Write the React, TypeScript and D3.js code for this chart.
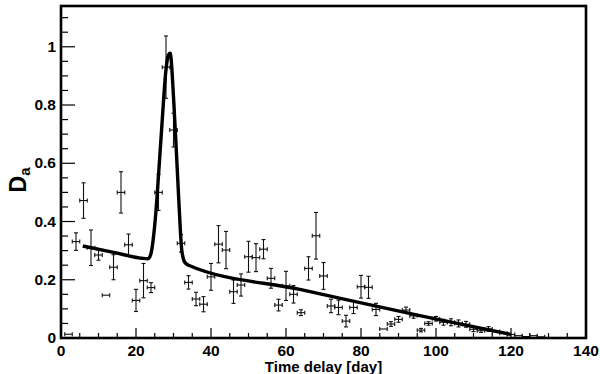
import React, { useEffect, useRef } from 'react';
import * as d3 from 'd3';

// binned measurements: bin centre [day], value, vertical error
const binCenters = [2, 4, 6, 8, 10, 12, 14, 16, 18, 20, 22, 24, 26, 28, 30, 32, 34, 36, 38, 40,
  42, 44, 46, 48, 50, 52, 54, 56, 58, 60, 62, 64, 66, 68, 70, 72, 74, 76, 78, 80,
  82, 84, 86, 88, 90, 92, 94, 96, 98, 100, 102, 104, 106, 108, 110, 112, 114, 116, 118, 120,
  122, 124, 126, 128];
const binValues = [0.013, 0.331, 0.472, 0.31, 0.285, 0.147, 0.243, 0.5, 0.32, 0.129, 0.197, 0.173, 0.5, 0.93, 0.714, 0.325, 0.191, 0.134, 0.116, 0.21,
  0.322, 0.302, 0.159, 0.182, 0.279, 0.276, 0.305, 0.205, 0.113, 0.179, 0.15, 0.087, 0.239, 0.351, 0.213, 0.11, 0.105, 0.058, 0.105, 0.176,
  0.174, 0.098, 0.031, 0.048, 0.064, 0.096, 0.076, 0.027, 0.05, 0.066, 0.054, 0.054, 0.05, 0.047, 0.03, 0.025, 0.031, 0.022, 0.016, 0.012,
  0.008, 0.005, 0.008, 0.004];
const binErrors = [0.002, 0.03, 0.061, 0.061, 0.018, 0.005, 0.043, 0.071, 0.037, 0.038, 0.059, 0.017, 0.062, 0.107, 0.058, 0.03, 0.023, 0.023, 0.026, 0.046,
  0.064, 0.064, 0.04, 0.038, 0.053, 0.048, 0.033, 0.034, 0.02, 0.05, 0.03, 0.01, 0.04, 0.08, 0.046, 0.023, 0.025, 0.02, 0.021, 0.039,
  0.038, 0.021, 0.003, 0.008, 0.01, 0.01, 0.008, 0.006, 0.006, 0.008, 0.01, 0.012, 0.012, 0.01, 0.008, 0.006, 0.008, 0.005, 0.004, 0.003,
  0.003, 0.002, 0.002, 0.002];
const binHalfWidth = 1;

// fitted curve
const fitX = [5.8, 14, 21.5, 23.2, 24.0, 24.6, 25.2, 26.1, 27.0, 27.9, 28.6, 29.1, 30.0, 30.7, 31.5, 32.2, 33.0, 34.0, 64, 96, 120];
const fitY = [0.316, 0.294, 0.274, 0.272, 0.29, 0.34, 0.417, 0.577, 0.749, 0.909, 0.97, 0.978, 0.829, 0.657, 0.451, 0.302, 0.26, 0.25, 0.166, 0.076, 0.012];

const xTicks = [0, 20, 40, 60, 80, 100, 120, 140];
const yTicks = [0, 0.2, 0.4, 0.6, 0.8, 1];

const App = () => {
  const ref = useRef<SVGSVGElement>(null);

  useEffect(() => {
    const svg = d3.select(ref.current);
    svg.selectAll('*').remove();

    const left = 61, right = 586, top = 6, bottom = 338;
    const x = d3.scaleLinear().domain([0, 140]).range([left, right]);
    const y = d3.scaleLinear().domain([0, 1.14]).range([bottom, top]);
    const font = '"Liberation Sans", Arial, Helvetica, sans-serif';

    // ticks, drawn inward
    const g = svg.append('g').attr('stroke', '#000').attr('stroke-width', 1.2);
    d3.range(0, 141, 5).forEach((v) => {
      const len = v % 20 === 0 ? 10 : 5;
      g.append('line').attr('x1', x(v)).attr('x2', x(v)).attr('y1', bottom).attr('y2', bottom - len);
    });
    d3.range(0, 23).forEach((i) => {
      const v = i * 0.05;
      const len = i % 4 === 0 ? 14 : 7;
      g.append('line').attr('x1', left).attr('x2', left + len).attr('y1', y(v)).attr('y2', y(v));
    });

    svg.append('g').selectAll('text').data(xTicks).enter().append('text')
      .attr('x', (d) => x(d)).attr('y', 356)
      .attr('text-anchor', 'middle')
      .attr('font-family', font).attr('font-weight', 'bold').attr('font-size', 15.5)
      .text((d) => d);

    svg.append('g').selectAll('text').data(yTicks).enter().append('text')
      .attr('x', 56).attr('y', (d) => y(d) + 5)
      .attr('text-anchor', 'end')
      .attr('font-family', font).attr('font-weight', 'bold').attr('font-size', 15.5)
      .text((d) => d);

    // error bars
    const eb = svg.append('g').attr('stroke', '#111').attr('stroke-width', 1.1);
    binCenters.forEach((c, i) => {
      const v = binValues[i], e = binErrors[i];
      const x0 = x(c - binHalfWidth), x1 = x(c + binHalfWidth), yc = y(v);
      const y0 = y(v - e), y1 = y(v + e);
      eb.append('line').attr('x1', x0).attr('x2', x1).attr('y1', yc).attr('y2', yc);
      eb.append('line').attr('x1', x0).attr('x2', x0).attr('y1', yc - 2).attr('y2', yc + 2);
      eb.append('line').attr('x1', x1).attr('x2', x1).attr('y1', yc - 2).attr('y2', yc + 2);
      if (y0 - y1 > 3) {
        eb.append('line').attr('x1', x(c)).attr('x2', x(c)).attr('y1', y0).attr('y2', y1);
        eb.append('line').attr('x1', x(c) - 2).attr('x2', x(c) + 2).attr('y1', y0).attr('y2', y0);
        eb.append('line').attr('x1', x(c) - 2).attr('x2', x(c) + 2).attr('y1', y1).attr('y2', y1);
      }
    });

    // fit
    const line = d3.line<number>()
      .x((d, i) => x(fitX[i]))
      .y((d) => y(d))
      .curve(d3.curveMonotoneX);
    svg.append('path').datum(fitY)
      .attr('d', line)
      .attr('fill', 'none').attr('stroke', '#000').attr('stroke-width', 3.4)
      .attr('stroke-linejoin', 'round');

    // frame
    svg.append('rect')
      .attr('x', left).attr('y', top)
      .attr('width', right - left).attr('height', bottom - top)
      .attr('fill', 'none').attr('stroke', '#000').attr('stroke-width', 2.6);

    // titles
    svg.append('text')
      .attr('x', (left + right) / 2).attr('y', 372)
      .attr('text-anchor', 'middle')
      .attr('font-family', font).attr('font-weight', 'bold').attr('font-size', 15)
      .text('Time delay [day]');

    const yt = svg.append('text')
      .attr('transform', `translate(26,${(top + bottom) / 2 + 8}) rotate(-90)`)
      .attr('text-anchor', 'middle')
      .attr('font-family', font).attr('font-weight', 'bold').attr('font-size', 23);
    yt.append('tspan').text('D');
    yt.append('tspan').attr('font-size', 15).attr('dy', 4).text('a');
  }, []);

  return (
    <svg ref={ref} width={600} height={374}
      style={{ position: 'absolute', left: 0, top: 0, background: '#fff' }} />
  );
};

export default App;
